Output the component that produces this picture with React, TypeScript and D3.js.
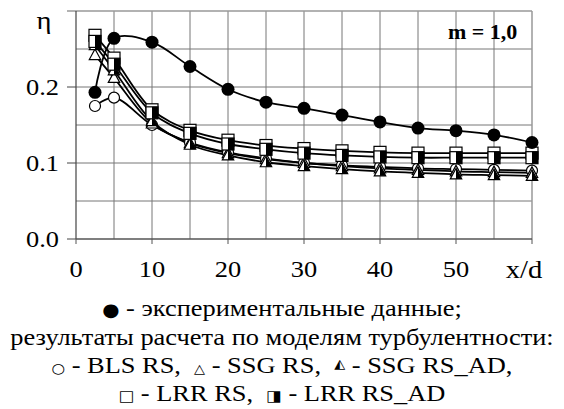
import React, { useRef, useEffect } from "react";
import * as d3 from "d3";

// x/d positions of the measurement / calculation stations
const xd = [2.5, 5, 10, 15, 20, 25, 30, 35, 40, 45, 50, 55, 60];

// experimental data (filled circles)
const expData = [0.193, 0.264, 0.259, 0.227, 0.197, 0.18, 0.172, 0.163, 0.154, 0.146, 0.1425, 0.137, 0.127];
// BLS RS (open circles)
const blsRS = [0.175, 0.186, 0.15, 0.127, 0.114, 0.106, 0.1, 0.097, 0.095, 0.093, 0.092, 0.091, 0.09];
// SSG RS (open triangles)
const ssgRS = [0.242, 0.212, 0.152, 0.126, 0.113, 0.105, 0.1, 0.096, 0.093, 0.091, 0.089, 0.088, 0.087];
// SSG RS_AD (half filled triangles)
const ssgRSAD = [0.255, 0.222, 0.155, 0.124, 0.11, 0.101, 0.096, 0.092, 0.089, 0.087, 0.085, 0.084, 0.083];
// LRR RS (open squares)
const lrrRS = [0.268, 0.238, 0.17, 0.143, 0.13, 0.123, 0.119, 0.116, 0.114, 0.113, 0.113, 0.113, 0.113];
// LRR RS_AD (half filled squares)
const lrrRSAD = [0.26, 0.23, 0.166, 0.139, 0.125, 0.118, 0.113, 0.11, 0.108, 0.107, 0.107, 0.107, 0.107];

const yTickLabels = ["0.0", "0.1", "0.2"];
const xTickLabels = ["0", "10", "20", "30", "40", "50"];

const serif = "Liberation Serif";
const stretch = 1.1; // the original figure is a bit wider than tall

const App = () => {
    const svgRef = useRef<SVGSVGElement | null>(null);

    useEffect(() => {
        const width = 564;
        const height = 409;
        const svg = d3.select(svgRef.current);
        svg.selectAll("*").remove();
        svg.attr("font-family", serif);

        const x = d3.scaleLinear().domain([0, 60]).range([76, 532]);
        const y = d3.scaleLinear().domain([0, 0.3]).range([239, 11]);

        // text helper, stretched horizontally like the source
        const label = (px: number, py: number, size: number, anchor: string) =>
            svg.append("text")
                .attr("transform", `translate(${px},${py}) scale(${stretch},1)`)
                .attr("text-anchor", anchor)
                .attr("font-size", size)
                .style("white-space", "pre");

        const grid = svg.append("g");
        // vertical grid every 5
        d3.range(5, 60, 5).forEach((v) => {
            grid.append("line")
                .attr("x1", x(v)).attr("x2", x(v))
                .attr("y1", y(0)).attr("y2", y(0.3))
                .attr("stroke", "#777").attr("stroke-width", 1);
        });
        // horizontal grid every 0.05
        d3.range(0.05, 0.3, 0.05).forEach((v) => {
            grid.append("line")
                .attr("x1", x(0)).attr("x2", x(60))
                .attr("y1", y(v)).attr("y2", y(v))
                .attr("stroke", "#777").attr("stroke-width", 1);
        });
        // frame top / right
        grid.append("line")
            .attr("x1", x(0) - 9).attr("x2", x(60))
            .attr("y1", y(0.3)).attr("y2", y(0.3))
            .attr("stroke", "#999").attr("stroke-width", 1.5);
        grid.append("line")
            .attr("x1", x(60)).attr("x2", x(60))
            .attr("y1", y(0.3)).attr("y2", y(0))
            .attr("stroke", "#999").attr("stroke-width", 1.5);

        // axes
        grid.append("line")
            .attr("x1", x(0)).attr("x2", x(0))
            .attr("y1", y(0)).attr("y2", y(0.3))
            .attr("stroke", "#444").attr("stroke-width", 1.2);
        grid.append("line")
            .attr("x1", x(0)).attr("x2", x(60))
            .attr("y1", y(0)).attr("y2", y(0))
            .attr("stroke", "#555").attr("stroke-width", 1.5);

        yTickLabels.forEach((t) => {
            const v = +t;
            grid.append("line")
                .attr("x1", x(0) - 9).attr("x2", x(0))
                .attr("y1", y(v)).attr("y2", y(v))
                .attr("stroke", "#444");
            label(59, y(v) + 8, 24, "end").text(t);
        });
        d3.range(0, 61, 10).forEach((v) => {
            grid.append("line")
                .attr("x1", x(v)).attr("x2", x(v))
                .attr("y1", y(0)).attr("y2", y(0) + 5)
                .attr("stroke", "#555");
        });
        xTickLabels.forEach((t) => {
            label(x(+t), 277, 24, "middle").text(t);
        });
        label(524, 278, 26, "middle").text("x/d");
        label(44, 29, 26, "middle").text("η");
        label(448, 39, 20, "start").attr("font-weight", "bold").text("m = 1,0");

        const line = d3.line<number>()
            .x((d, i) => x(xd[i]))
            .y((d) => y(d))
            .curve(d3.curveCatmullRom.alpha(0.5));

        const series = [
            { values: blsRS, marker: "circle" },
            { values: ssgRS, marker: "triangle" },
            { values: ssgRSAD, marker: "halfTriangle" },
            { values: lrrRS, marker: "square" },
            { values: lrrRSAD, marker: "halfSquare" },
            { values: expData, marker: "dot" },
        ];

        const plot = svg.append("g");
        series.forEach((s) => {
            plot.append("path")
                .attr("d", line(s.values))
                .attr("fill", "none")
                .attr("stroke", "#000")
                .attr("stroke-width", 1.8);
        });

        const tri = (cx: number, cy: number, r: number) =>
            `M${cx},${cy - r} L${cx + r * 0.95},${cy + r * 0.75} L${cx - r * 0.95},${cy + r * 0.75} Z`;

        series.forEach((s) => {
            s.values.forEach((v, i) => {
                const cx = x(xd[i]);
                const cy = y(v);
                if (s.marker === "dot") {
                    plot.append("circle").attr("cx", cx).attr("cy", cy).attr("r", 6.5).attr("fill", "#000");
                } else if (s.marker === "circle") {
                    plot.append("circle").attr("cx", cx).attr("cy", cy).attr("r", 5.5)
                        .attr("fill", "#fff").attr("stroke", "#000").attr("stroke-width", 1.2);
                } else if (s.marker === "square" || s.marker === "halfSquare") {
                    plot.append("rect").attr("x", cx - 6).attr("y", cy - 6)
                        .attr("width", 12).attr("height", 12)
                        .attr("fill", "#fff").attr("stroke", "#000").attr("stroke-width", 1.2);
                    if (s.marker === "halfSquare") {
                        plot.append("rect").attr("x", cx).attr("y", cy - 6)
                            .attr("width", 6).attr("height", 12).attr("fill", "#000");
                    }
                } else {
                    plot.append("path").attr("d", tri(cx, cy, 6))
                        .attr("fill", "#fff").attr("stroke", "#000").attr("stroke-width", 1.2);
                    if (s.marker === "halfTriangle") {
                        plot.append("path")
                            .attr("d", `M${cx},${cy - 6} L${cx + 5.7},${cy + 4.5} L${cx},${cy + 4.5} Z`)
                            .attr("fill", "#000");
                    }
                }
            });
        });

        // legend text
        const sym = "DejaVu Sans";
        const l1 = label(width / 2, 316, 24, "middle");
        l1.append("tspan").attr("font-family", sym).attr("font-size", 18).text("●");
        l1.append("tspan").text(" - экспериментальные данные;");
        label(width / 2, 345, 24, "middle").text("результаты расчета по моделям турбулентности:");
        const l3 = label(width / 2, 373, 24, "middle");
        l3.append("tspan").attr("font-family", sym).attr("font-size", 14).text("○");
        l3.append("tspan").text(" - BLS RS,  ");
        l3.append("tspan").attr("font-family", sym).attr("font-size", 13).text("△");
        l3.append("tspan").text(" - SSG RS,  ");
        l3.append("tspan").attr("font-family", sym).attr("font-size", 13).attr("dy", -5).text("◭");
        l3.append("tspan").attr("dy", 5).text(" - SSG RS_AD,");
        const l4 = label(width / 2, 401, 24, "middle");
        l4.append("tspan").attr("font-family", sym).attr("font-size", 15).text("□");
        l4.append("tspan").text(" - LRR RS,  ");
        l4.append("tspan").attr("font-family", sym).attr("font-size", 15).text("◨");
        l4.append("tspan").text(" - LRR RS_AD");

        svg.attr("viewBox", `0 0 ${width} ${height}`);
    }, []);

    return (
        <svg
            ref={svgRef}
            width={564}
            height={409}
            style={{ position: "absolute", left: 0, top: 0, background: "#fff" }}
        />
    );
};

export default App;
